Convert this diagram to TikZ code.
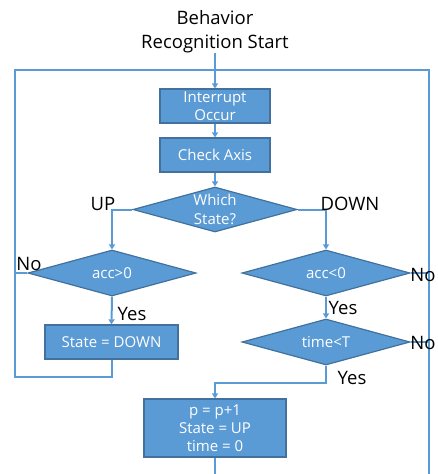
\documentclass[tikz,border=0pt]{standalone}
\usepackage{fontspec}
\setmainfont{Open Sans}
\usetikzlibrary{arrows.meta,shapes.geometric}
\definecolor{fillblue}{HTML}{5B9BD5}
\definecolor{edgeblue}{HTML}{41719C}
\begin{document}
\begin{tikzpicture}[x=1pt,y=-1pt,
  box/.style={draw=edgeblue, fill=fillblue, line width=1.2pt, text=white,
    font=\fontsize{15}{18}\selectfont, align=center, inner sep=0pt},
  diam/.style={diamond, draw=edgeblue, fill=fillblue, line width=1.2pt, inner sep=0pt},
  dtxt/.style={text=white, font=\fontsize{15}{19}\selectfont, align=center, inner sep=0pt},
  lbl/.style={font=\fontsize{18.5}{24}\selectfont, inner sep=0pt, text=black},
  conn/.style={draw=fillblue, line width=2pt},
  arr/.style={conn, -{Triangle[length=5pt,width=6pt]}}]
\useasboundingbox (0,0) rectangle (437,474);

% nodes
\node[lbl, align=center] (title) at (215,32) {Behavior\\Recognition Start};
\node[box, minimum width=110, minimum height=34] (int) at (215,106) {Interrupt\\Occur};
\node[box, minimum width=110, minimum height=34] (chk) at (215,155) {Check Axis};
\node[diam, minimum width=164, minimum height=45] (ws) at (215,209.5) {};
\node[dtxt] (wst) at (ws) {Which\\State?};
\node[diam, minimum width=168, minimum height=46] (a1) at (112,273) {};
\node[dtxt] (a1t) at (a1) {acc>0};
\node[diam, minimum width=168, minimum height=46] (a2) at (326,273) {};
\node[dtxt] (a2t) at (a2) {acc<0};
\node[diam, minimum width=168, minimum height=46] (tt) at (326,342) {};
\node[dtxt] (ttt) at (tt) {time<T};
\node[box, minimum width=133, minimum height=34] (sd) at (111.5,342) {State = DOWN};
\node[box, minimum width=142, minimum height=58] (pb) at (215,428) {p = p+1\\State = UP\\time = 0};

% loop coordinates
\coordinate (tl) at (15,70);
\coordinate (tr) at (429,70);
\coordinate (br) at (429,474);
\coordinate (bl) at (15,377);
\coordinate (pbot) at (215,474);
\coordinate (tj) at (326,383);

% connectors
\draw[arr] (title.south) -- (int.north);
\draw[arr] (int.south) -- (chk.north);
\draw[arr] (chk.south) -- (ws.north);
\draw[arr] (ws.west) -| (a1.north);
\draw[arr] (ws.east) -| (a2.north);
\draw[arr] (a1.south) -- (sd.north);
\draw[arr] (a2.south) -- (tt.north);
\draw[arr] (tt.south) -- (tj) -| (pb.north);
\draw[conn] (sd.south) |- (bl) -- (tl) -- (tr) -- (br);
\draw[conn] (a1.west) -- (a1.west -| tl);
\draw[conn] (a2.east) -- (a2.east -| tr);
\draw[conn] (tt.east) -- (tt.east -| tr);
\draw[conn] (pb.south) -- (pbot);

% labels
\node[lbl] (lup) at (103,204) {UP};
\node[lbl] (ldown) at (350,204) {DOWN};
\node[lbl] (lno1) at (29,264) {No};
\node[lbl] (lno2) at (423,275) {No};
\node[lbl] (lno3) at (423,343) {No};
\node[lbl] (lyes1) at (132,314) {Yes};
\node[lbl] (lyes2) at (343,308) {Yes};
\node[lbl] (lyes3) at (352,378) {Yes};
\end{tikzpicture}
\end{document}
